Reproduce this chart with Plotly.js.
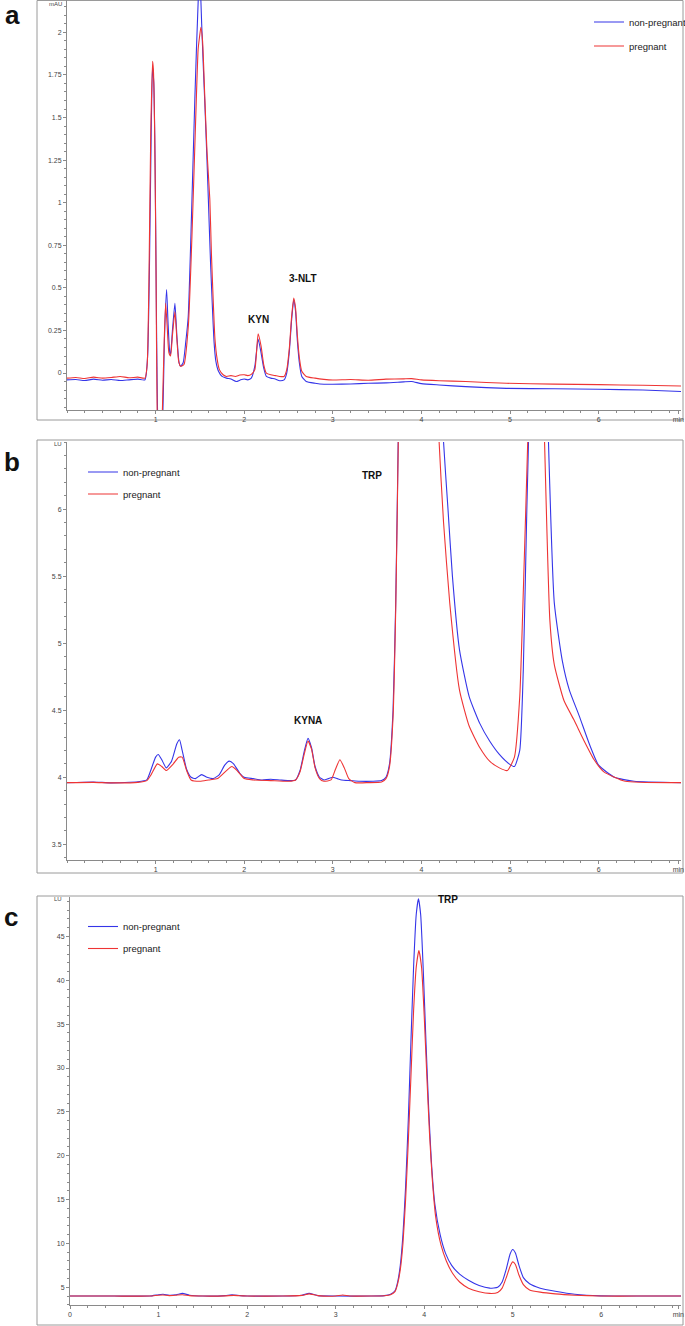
<!DOCTYPE html>
<html>
<head>
<meta charset="utf-8">
<script src="https://cdn.plot.ly/plotly-3.0.1.min.js"></script>
<style>html,body{margin:0;padding:0;background:#fff;}#chart{width:685px;height:1326px;}</style>
</head>
<body>
<div id="chart"></div>
<script>
// ---------------- Panel a (UV, mAU) ----------------
const aBlueT = [0.00,0.10,0.20,0.30,0.40,0.50,0.60,0.70,0.80,0.88,0.91,0.93,0.95,0.965,0.98,0.995,1.01,1.025,1.05,1.075,1.09,1.10,1.124,1.14,1.16,1.169,1.19,1.218,1.24,1.265,1.282,1.311,1.34,1.368,1.405,1.443,1.481,1.50,1.52,1.54,1.556,1.58,1.60,1.62,1.64,1.66,1.68,1.71,1.75,1.80,1.85,1.91,1.96,2.00,2.04,2.08,2.12,2.157,2.19,2.22,2.25,2.30,2.35,2.40,2.45,2.48,2.51,2.535,2.559,2.58,2.60,2.625,2.65,2.70,2.80,2.90,3.00,3.20,3.40,3.60,3.80,3.89,4.00,4.20,4.50,4.96,5.50,6.00,6.50,6.93];
const aBlueV = [-0.040,-0.038,-0.044,-0.036,-0.042,-0.038,-0.044,-0.040,-0.036,-0.040,0.10,0.60,1.40,1.80,1.70,1.20,0.30,-0.30,-0.50,-0.35,-0.05,0.20,0.49,0.30,0.12,0.11,0.25,0.41,0.22,0.06,0.04,0.06,0.18,0.33,0.92,1.61,2.19,2.32,2.05,1.78,1.58,1.25,0.95,0.65,0.40,0.18,0.07,0.01,-0.02,-0.03,-0.035,-0.05,-0.04,-0.035,-0.04,-0.03,0.04,0.20,0.12,0.03,-0.02,-0.03,-0.035,-0.045,-0.04,0.00,0.13,0.31,0.43,0.36,0.19,0.05,-0.02,-0.05,-0.06,-0.066,-0.066,-0.064,-0.060,-0.058,-0.052,-0.050,-0.062,-0.070,-0.080,-0.090,-0.092,-0.095,-0.100,-0.108];
const aRedT = [0.00,0.10,0.20,0.30,0.40,0.50,0.60,0.70,0.80,0.88,0.905,0.925,0.945,0.966,0.975,0.99,1.005,1.018,1.04,1.065,1.08,1.095,1.113,1.13,1.15,1.169,1.19,1.218,1.24,1.26,1.282,1.32,1.37,1.41,1.45,1.48,1.495,1.511,1.53,1.556,1.58,1.612,1.63,1.65,1.67,1.695,1.72,1.762,1.80,1.85,1.90,1.95,2.00,2.04,2.08,2.12,2.157,2.19,2.22,2.25,2.30,2.35,2.40,2.45,2.48,2.51,2.535,2.559,2.58,2.60,2.625,2.65,2.70,2.80,2.90,3.00,3.20,3.40,3.60,3.80,3.89,4.00,4.20,4.50,4.96,5.50,6.00,6.50,6.93];
const aRedV = [-0.030,-0.026,-0.032,-0.024,-0.030,-0.026,-0.020,-0.028,-0.024,-0.030,0.05,0.55,1.40,1.83,1.78,1.40,0.60,-0.25,-0.50,-0.40,-0.15,0.15,0.41,0.28,0.12,0.10,0.22,0.36,0.20,0.07,0.04,0.05,0.28,0.80,1.45,1.90,1.97,2.03,1.95,1.61,1.30,1.02,0.70,0.43,0.20,0.08,0.02,-0.01,-0.02,-0.015,-0.02,-0.012,-0.010,-0.015,-0.008,0.02,0.23,0.16,0.05,0.00,-0.010,-0.015,-0.020,-0.020,0.02,0.15,0.33,0.44,0.38,0.22,0.08,0.01,-0.02,-0.030,-0.037,-0.041,-0.038,-0.042,-0.036,-0.034,-0.033,-0.040,-0.045,-0.050,-0.060,-0.065,-0.068,-0.072,-0.076];

// ---------------- Panel b (fluorescence, LU) ----------------
const bBlueT = [0.00,0.30,0.50,0.80,0.90,0.95,1.00,1.03,1.07,1.12,1.18,1.24,1.27,1.30,1.35,1.40,1.45,1.52,1.58,1.65,1.72,1.78,1.83,1.88,1.95,2.00,2.10,2.20,2.30,2.40,2.50,2.58,2.63,2.68,2.72,2.76,2.80,2.85,2.90,2.95,3.00,3.05,3.10,3.20,3.30,3.45,3.55,3.60,3.64,3.68,3.71,3.74,3.78,3.95,4.15,4.25,4.30,4.35,4.43,4.54,4.66,4.77,4.88,4.99,5.05,5.11,5.15,5.19,5.22,5.32,5.43,5.50,5.59,5.67,5.78,5.90,6.00,6.18,6.40,6.93];
const bBlueV = [3.960,3.965,3.958,3.966,3.980,4.06,4.15,4.17,4.13,4.07,4.12,4.25,4.28,4.20,4.06,4.00,3.99,4.02,4.00,3.99,4.02,4.09,4.12,4.10,4.03,4.00,3.99,3.98,3.985,3.98,3.975,3.98,4.05,4.20,4.29,4.22,4.08,4.00,3.98,3.99,4.00,3.99,3.98,3.975,3.970,3.970,3.975,4.00,4.10,4.50,5.30,6.60,9.0,30.0,8.0,6.5,6.0,5.5,4.95,4.60,4.40,4.27,4.17,4.10,4.08,4.20,4.80,6.00,6.80,10.0,6.60,5.30,4.87,4.65,4.46,4.24,4.09,4.00,3.97,3.96];
const bRedT = [0.00,0.30,0.50,0.80,0.90,0.95,1.02,1.07,1.12,1.20,1.26,1.30,1.35,1.40,1.50,1.60,1.70,1.80,1.86,1.92,2.00,2.10,2.30,2.50,2.58,2.63,2.68,2.72,2.76,2.80,2.85,2.90,2.98,3.03,3.08,3.13,3.18,3.25,3.40,3.55,3.60,3.64,3.68,3.71,3.74,3.78,3.95,4.12,4.20,4.25,4.32,4.43,4.54,4.66,4.77,4.88,4.97,5.05,5.11,5.16,5.20,5.30,5.39,5.45,5.50,5.61,5.72,5.83,5.95,6.06,6.30,6.93];
const bRedV = [3.960,3.962,3.958,3.962,3.975,4.02,4.10,4.08,4.05,4.10,4.15,4.15,4.05,3.98,3.97,3.98,3.99,4.05,4.08,4.05,3.99,3.98,3.975,3.970,3.98,4.04,4.18,4.27,4.21,4.07,3.99,3.97,3.98,4.06,4.13,4.07,3.99,3.96,3.96,3.965,3.99,4.08,4.45,5.25,6.55,9.0,26.0,8.0,6.5,5.9,5.3,4.65,4.38,4.22,4.12,4.07,4.05,4.15,4.60,5.60,6.50,9.0,6.50,5.17,4.84,4.57,4.43,4.28,4.13,4.04,3.97,3.96];

// ---------------- Panel c (fluorescence, LU, full scale) ----------------
const cBlueT = [0.00,0.50,0.90,1.00,1.05,1.12,1.20,1.27,1.35,1.50,1.75,1.83,1.92,2.00,2.40,2.62,2.70,2.80,3.00,3.40,3.55,3.62,3.67,3.70,3.73,3.76,3.79,3.82,3.85,3.88,3.91,3.935,3.96,3.99,4.02,4.05,4.08,4.12,4.18,4.24,4.31,4.40,4.50,4.62,4.74,4.83,4.88,4.93,4.97,5.00,5.03,5.07,5.12,5.19,5.31,5.48,5.70,5.99,6.40,6.90];
const cBlueV = [4.00,4.00,4.00,4.15,4.20,4.10,4.15,4.30,4.10,4.00,4.05,4.15,4.05,4.00,4.00,4.10,4.30,4.05,4.00,4.00,4.05,4.20,4.60,5.6,7.5,11.0,16.5,24.0,33.0,41.5,47.5,49.3,47.5,41.0,33.0,25.5,19.5,14.5,11.0,8.9,7.5,6.5,5.8,5.2,4.9,5.0,5.6,7.2,8.8,9.3,8.9,7.5,6.1,5.4,4.9,4.55,4.2,4.02,4.0,4.0];
const cRedT = [0.00,0.50,0.90,1.00,1.05,1.12,1.20,1.27,1.35,1.50,1.75,1.85,1.95,2.00,2.40,2.62,2.70,2.80,3.00,3.08,3.16,3.40,3.55,3.62,3.67,3.70,3.73,3.76,3.79,3.82,3.85,3.88,3.91,3.94,3.97,4.00,4.03,4.06,4.09,4.13,4.19,4.25,4.32,4.40,4.50,4.62,4.74,4.83,4.88,4.93,4.97,5.00,5.03,5.07,5.12,5.19,5.31,5.48,5.70,5.99,6.40,6.90];
const cRedV = [4.00,4.00,4.00,4.10,4.12,4.05,4.10,4.15,4.05,4.00,4.02,4.08,4.02,4.00,4.00,4.08,4.25,4.05,4.00,4.12,4.00,4.00,4.03,4.15,4.50,5.4,7.0,10.0,15.0,21.5,29.0,36.5,41.5,43.4,41.5,36.0,29.0,22.5,17.5,13.0,9.8,8.0,6.6,5.6,4.9,4.5,4.3,4.4,4.9,6.2,7.4,7.9,7.6,6.4,5.3,4.7,4.45,4.25,4.1,4.0,4.0,4.0];

// ---------------- Tick labels ----------------
const xTickValsAB = [1,2,3,4,5,6,6.9];
const xTickTextAB = ['1','2','3','4','5','6','min'];
const xTickValsC = [0,1,2,3,4,5,6,6.87];
const xTickTextC = ['0','1','2','3','4','5','6','min'];
const yTickValsA = [0,0.25,0.5,0.75,1,1.25,1.5,1.75,2];
const yTickTextA = ['0','0.25','0.5','0.75','1','1.25','1.5','1.75','2'];
const yTickValsB = [3.5,4,4.5,5,5.5,6];
const yTickTextB = ['3.5','4','4.5','5','5.5','6'];
const yTickValsC = [5,10,15,20,25,30,35,40,45];
const yTickTextC = ['5','10','15','20','25','30','35','40','45'];
const seriesNames = ['non-pregnant','pregnant'];

const W = 685, H = 1326;
const BLUE = '#3535e8', RED = '#ee3434';
const FONT = 'Liberation Sans, Arial, sans-serif';
const py = p => 1 - p / H;   // pixel row -> paper y
const px = p => p / W;       // pixel col -> paper x

function tr(x, y, name, color, xa, ya, leg, grp) {
  return {x: x, y: y, name: name, type: 'scatter', mode: 'lines',
    line: {color: color, width: 1.1, shape: 'spline', smoothing: 0.5}, xaxis: xa, yaxis: ya,
    legend: leg, legendgroup: grp, showlegend: true, hoverinfo: 'skip'};
}
const data = [
  tr(aBlueT, aBlueV, seriesNames[0], BLUE, 'x', 'y', 'legend', 'a1'),
  tr(aRedT, aRedV, seriesNames[1], RED, 'x', 'y', 'legend', 'a2'),
  tr(bBlueT, bBlueV, seriesNames[0], BLUE, 'x2', 'y2', 'legend2', 'b1'),
  tr(bRedT, bRedV, seriesNames[1], RED, 'x2', 'y2', 'legend2', 'b2'),
  tr(cBlueT, cBlueV, seriesNames[0], BLUE, 'x3', 'y3', 'legend3', 'c1'),
  tr(cRedT, cRedV, seriesNames[1], RED, 'x3', 'y3', 'legend3', 'c2')
];

const tickFont = {family: FONT, size: 7, color: '#444'};
function xax(domain, range, vals, text, anchor) {
  return {domain: domain, range: range, anchor: anchor, showline: true, linecolor: '#8a8a8a', linewidth: 1,
    ticks: 'outside', ticklen: 3, tickcolor: '#8a8a8a', tickmode: 'array', tickvals: vals, ticktext: text,
    tickfont: tickFont, showgrid: false, zeroline: false, fixedrange: true,
    minor: {tickmode: 'linear', tick0: 0, dtick: 0.2, ticks: 'outside', ticklen: 2, tickcolor: '#8a8a8a', showgrid: false}};
}
function yax(domain, range, vals, text, anchor, minorStep) {
  return {domain: domain, range: range, anchor: anchor, showline: true, linecolor: '#8a8a8a', linewidth: 1,
    ticks: 'outside', ticklen: 3, tickcolor: '#8a8a8a', tickmode: 'array', tickvals: vals, ticktext: text,
    tickfont: tickFont, showgrid: false, zeroline: false, fixedrange: true,
    minor: {tickmode: 'linear', tick0: 0, dtick: minorStep, ticks: 'outside', ticklen: 2, tickcolor: '#8a8a8a', showgrid: false}};
}

const legFont = {family: FONT, size: 9.5, color: '#222'};
function leg(x, yPix, gap) {
  return {x: px(x), y: py(yPix), xanchor: 'left', yanchor: 'top', bgcolor: 'rgba(0,0,0,0)',
    borderwidth: 0, font: legFont, traceorder: 'grouped', itemclick: false, itemdoubleclick: false, tracegroupgap: gap};
}

function frame(top, bottom) {
  return {type: 'rect', xref: 'paper', yref: 'paper', x0: px(37), x1: px(683), y0: py(bottom), y1: py(top),
    line: {color: '#9a9a9a', width: 1}, fillcolor: 'rgba(0,0,0,0)', layer: 'below'};
}

function lab(text, x, y, xr, yr, size) {
  return {text: '<b>' + text + '</b>', x: x, y: y, xref: xr, yref: yr, showarrow: false,
    font: {family: FONT, size: size, color: '#111'}, xanchor: 'center', yanchor: 'middle'};
}
function unit(text, yPix) {
  return {text: text, x: px(64), y: py(yPix), xref: 'paper', yref: 'paper', showarrow: false,
    font: {family: FONT, size: 6, color: '#444'}, xanchor: 'right', yanchor: 'middle'};
}

const layout = {
  width: W, height: H, margin: {l: 0, r: 0, t: 0, b: 0, autoexpand: false},
  paper_bgcolor: '#fff', plot_bgcolor: '#fff', showlegend: true,
  font: {family: FONT},
  xaxis: xax([px(67), px(681)], [0, 6.93], xTickValsAB, xTickTextAB, 'y'),
  yaxis: yax([py(410), py(0)], [-0.217, 2.19], yTickValsA, yTickTextA, 'x', 0.05),
  xaxis2: xax([px(67), px(681)], [0, 6.93], xTickValsAB, xTickTextAB, 'y2'),
  yaxis2: yax([py(860), py(442)], [3.383, 6.5], yTickValsB, yTickTextB, 'x2', 0.1),
  xaxis3: xax([px(70), px(681)], [0, 6.9], xTickValsC, xTickTextC, 'y3'),
  yaxis3: yax([py(1305), py(897)], [2.98, 49.5], yTickValsC, yTickTextC, 'x3', 1),
  legend: leg(589, 7.5, 5),
  legend2: leg(83, 457.5, 3),
  legend3: leg(83, 912, 3),
  shapes: [frame(0.5, 420), frame(440, 873), frame(896, 1325)],
  annotations: [
    lab('a', px(12), py(15), 'paper', 'paper', 26),
    lab('b', px(12), py(462), 'paper', 'paper', 26),
    lab('c', px(11), py(917), 'paper', 'paper', 26),
    lab('KYN', 2.157, 0.315, 'x', 'y', 10),
    lab('3-NLT', 2.66, 0.554, 'x', 'y', 10),
    lab('KYNA', 2.72, 4.425, 'x2', 'y2', 10),
    lab('TRP', 3.44, 6.25, 'x2', 'y2', 10),
    lab('TRP', 4.27, 49.2, 'x3', 'y3', 10),
    unit('mAU', 4),
    unit('LU', 444),
    unit('LU', 899)
  ]
};

Plotly.newPlot('chart', data, layout, {displayModeBar: false, staticPlot: true});
</script>
</body>
</html>
